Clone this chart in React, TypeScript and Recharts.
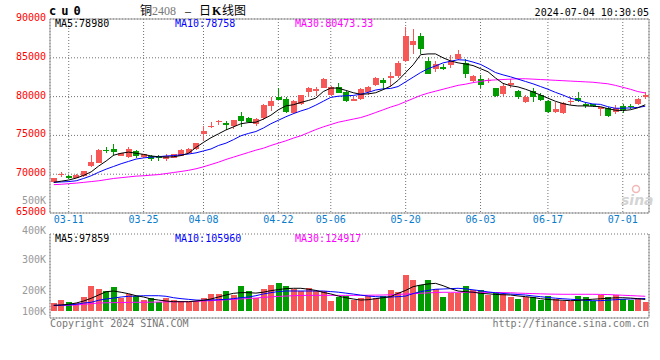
import React from "react";
import { ComposedChart, Bar, Line, XAxis, YAxis, ReferenceLine, CartesianGrid } from "recharts";

const dates = [
  "03-07","03-08","03-11","03-12","03-13","03-14","03-15","03-18","03-19","03-20",
  "03-21","03-22","03-25","03-26","03-27","03-28","03-29","04-01","04-02","04-03",
  "04-08","04-09","04-10","04-11","04-12","04-15","04-16","04-17","04-18","04-19",
  "04-22","04-23","04-24","04-25","04-26","04-29","04-30","05-06","05-07","05-08",
  "05-09","05-10","05-13","05-14","05-15","05-16","05-17","05-20","05-21","05-22",
  "05-23","05-24","05-27","05-28","05-29","05-30","05-31","06-03","06-04","06-05",
  "06-06","06-07","06-11","06-12","06-13","06-14","06-17","06-18","06-19","06-20",
  "06-21","06-24","06-25","06-26","06-27","06-28","07-01","07-02","07-03","07-04",
];

const opens = [
  69050, 69900, 69750, 69500, 69750, 71050, 71500, 73150, 73200, 72400,
  72200, 72950, 72200, 72350, 72250, 71950, 72150, 72400, 72700, 73300,
  75150, 76100, 76750, 76650, 76200, 77500, 77300, 76450, 77200, 78800,
  79900, 79750, 77900, 79000, 80600, 80750, 81100, 80200, 81250, 80600,
  79450, 79650, 80600, 81450, 82100, 82400, 82600, 84600, 86600, 87750,
  84550, 83600, 83850, 84050, 84900, 84300, 82050, 82300, 82000, 81050,
  80300, 81550, 80700, 79350, 80700, 80200, 79400, 78000, 77850, 79350,
  79850, 79000, 79000, 78450, 78550, 78050, 78800, 78750, 79050, 80000,
];
const highs = [
  69550, 70250, 69900, 70000, 70450, 72450, 73250, 73450, 73850, 72750,
  73450, 73100, 72600, 72500, 72450, 72650, 72600, 73250, 73350, 74050,
  76150, 76700, 77000, 76800, 77000, 78050, 77400, 77200, 79000, 79900,
  81050, 79900, 79550, 80250, 81250, 81250, 82450, 81400, 81750, 80700,
  79950, 81100, 81350, 82500, 82400, 83150, 84550, 88940, 88700, 88150,
  85150, 84550, 84250, 85400, 85950, 84850, 82750, 82750, 82450, 81100,
  81750, 82250, 80850, 80200, 81050, 80400, 79550, 79350, 79350, 79980,
  80600, 79250, 79100, 78700, 78700, 78900, 79050, 79100, 79800, 80600,
];
const lows = [
  69000, 69700, 69350, 69450, 69700, 70950, 71450, 72750, 72350, 72300,
  72050, 72050, 72150, 71650, 71750, 71750, 72100, 72350, 72600, 73100,
  74300, 75950, 76350, 75700, 75800, 76100, 76550, 76200, 77000, 78150,
  79500, 77830, 77750, 78900, 79900, 80050, 81050, 80100, 80400, 79350,
  79450, 79550, 80200, 81400, 80900, 81250, 82400, 84450, 85430, 85500,
  82850, 83150, 83400, 83700, 84750, 82450, 81900, 81150, 81700, 79950,
  80100, 81150, 79650, 79150, 79250, 79450, 77950, 77950, 77750, 78900,
  79250, 78500, 78600, 77500, 77400, 77750, 77850, 78450, 78900, 79700,
];
const closes = [
  69500, 69980, 69550, 69950, 70400, 71600, 73150, 72950, 72900, 72700,
  73200, 72350, 72550, 71950, 72100, 72350, 72550, 73150, 73250, 74000,
  75550, 76200, 76850, 76300, 76950, 76900, 76700, 77050, 78900, 79450,
  79550, 78050, 79400, 80150, 81150, 80950, 82250, 81300, 80500, 79400,
  79750, 81000, 81250, 82400, 81750, 82600, 84300, 87750, 87200, 86150,
  82950, 84250, 83600, 84650, 85500, 82950, 82650, 81450, 82100, 80100,
  81350, 81700, 79900, 80000, 79980, 79550, 78050, 78400, 79150, 79450,
  79400, 78850, 78850, 78600, 77500, 78500, 78250, 78650, 79700, 80200,
];

const ma5 = [
  68950, 69100, 69250, 69500, 69850, 70300, 71050, 71700, 72450, 72700,
  72850, 72700, 72550, 72350, 72250, 72200, 72250, 72400, 72700, 73450,
  74100, 74700, 75200, 75700, 76100, 76500, 76650, 76700, 77100, 77600,
  78300, 78800, 78950, 79250, 79500, 79800, 80650, 81100, 81100, 80800,
  80500, 80300, 80350, 80500, 80900, 81350, 82100, 83100, 84100, 85400,
  85500, 85500, 85000, 84600, 84350, 84200, 84000, 83600, 83200, 82400,
  81700, 81400, 81250, 80950, 80600, 80200, 79800, 79400, 79100, 78900,
  78800, 78800, 78750, 78700, 78450, 78250, 78200, 78300, 78550, 78950,
];
const ma10 = [
  68950, 69000, 69050, 69150, 69450, 69800, 70250, 70650, 71000, 71350,
  71650, 71950, 72100, 72200, 72250, 72350, 72400, 72500, 72600, 72750,
  73000, 73250, 73700, 74000, 74450, 74950, 75250, 75500, 75950, 76500,
  76950, 77400, 77800, 78150, 78450, 78900, 79400, 79900, 80050, 80100,
  80150, 80300, 80550, 80850, 81000, 81050, 81300, 81900, 82500, 83100,
  83600, 83950, 84350, 84550, 84750, 84700, 84450, 84150, 83650, 83100,
  82800, 82550, 82250, 81950, 81650, 81300, 80950, 80550, 80200, 79800,
  79550, 79250, 79050, 79000, 78700, 78500, 78500, 78550, 78600, 78760,
];
const ma30 = [
  68650, 68700, 68780, 68850, 68950, 69050, 69150, 69300, 69450, 69550,
  69650, 69750, 69800, 69880, 69950, 70080, 70220, 70350, 70500, 70700,
  70950, 71250, 71550, 71900, 72200, 72500, 72800, 73100, 73350, 73700,
  74000, 74300, 74650, 74950, 75350, 75750, 76100, 76400, 76700, 76900,
  77100, 77300, 77600, 77950, 78300, 78650, 78950, 79350, 79750, 80150,
  80450, 80700, 80950, 81200, 81450, 81600, 81800, 81950, 82100, 82150,
  82200, 82250, 82300, 82300, 82250, 82200, 82150, 82100, 82050, 82000,
  81950, 81900, 81850, 81750, 81650, 81450, 81200, 80950, 80650, 80470,
];

const volumes = [
  71000, 93000, 76000, 65000, 122000, 212000, 187000, 170000, 204000, 113000,
  142000, 130000, 93000, 108000, 74000, 113000, 93000, 85000, 79000, 85000,
  113000, 144000, 144000, 170000, 136000, 212000, 173000, 113000, 187000, 221000,
  238000, 212000, 187000, 170000, 195000, 173000, 173000, 85000, 119000, 127000,
  93000, 110000, 127000, 110000, 127000, 178000, 161000, 306000, 263000, 221000,
  263000, 187000, 119000, 156000, 156000, 212000, 178000, 178000, 136000, 156000,
  144000, 122000, 102000, 122000, 119000, 93000, 127000, 102000, 85000, 85000,
  127000, 122000, 88000, 136000, 122000, 136000, 102000, 93000, 102000, 76000,
];
const volMa5 = [
  48000, 51000, 57000, 68000, 85000, 108000, 136000, 164000, 170000, 159000,
  147000, 130000, 119000, 102000, 93000, 85000, 79000, 79000, 79000, 85000,
  91000, 102000, 119000, 136000, 150000, 156000, 156000, 152000, 160000, 173000,
  182000, 190000, 193000, 193000, 185000, 175000, 158000, 145000, 127000, 113000,
  102000, 93000, 96000, 105000, 113000, 122000, 150000, 175000, 207000, 221000,
  230000, 235000, 215000, 190000, 170000, 164000, 160000, 150000, 146000, 141000,
  138000, 136000, 128000, 122000, 115000, 105000, 98000, 94000, 91000, 88000,
  90000, 96000, 100000, 104000, 108000, 112000, 113000, 110000, 105000, 98000,
];
const volMa10 = [
  48000, 50000, 52000, 57000, 68000, 74000, 91000, 102000, 110000, 119000,
  125000, 127000, 130000, 130000, 130000, 125000, 113000, 105000, 99000, 93000,
  91000, 93000, 96000, 99000, 105000, 113000, 119000, 130000, 145000, 156000,
  165000, 170000, 170000, 170000, 170000, 170000, 170000, 165000, 160000, 152000,
  144000, 135000, 127000, 122000, 119000, 119000, 122000, 127000, 148000, 165000,
  175000, 185000, 187000, 190000, 193000, 188000, 180000, 172000, 162000, 155000,
  149000, 144000, 140000, 136000, 128000, 122000, 115000, 109000, 104000, 100000,
  96000, 91000, 87000, 88000, 92000, 96000, 100000, 102000, 104000, 106000,
];
const volMa30 = [
  45000, 47000, 49000, 51000, 57000, 62000, 68000, 70000, 71000, 72000,
  73000, 74000, 74000, 75000, 76000, 77000, 78000, 79000, 80000, 82000,
  85000, 88000, 91000, 95000, 99000, 102000, 106000, 110000, 116000, 120000,
  124000, 127000, 130000, 132000, 133000, 133000, 133000, 133000, 133000, 133000,
  133000, 133000, 134000, 135000, 136000, 138000, 141000, 144000, 147000, 151000,
  154000, 157000, 159000, 159000, 159000, 159000, 159000, 159000, 158000, 157000,
  156000, 155000, 152000, 150000, 148000, 146000, 144000, 143000, 142000, 142000,
  142000, 142000, 142000, 141000, 140000, 137000, 134000, 131000, 128000, 125000,
];

const priceTicks = [65000, 70000, 75000, 80000, 85000, 90000];
const dateTicks = ["03-11", "03-25", "04-08", "04-22", "05-06", "05-20", "06-03", "06-17", "07-01"];
const volGridTicks = [0, 1, 2, 3, 4];
const volTickLabels = ["400K", "300K", "200K", "100K"];
const priceLegend = [
  { label: "MA5", value: "78980" },
  { label: "MA10", value: "78758" },
  { label: "MA30", value: "80473.33" },
];
const volLegend = [
  { label: "MA5", value: "97859" },
  { label: "MA10", value: "105960" },
  { label: "MA30", value: "124917" },
];
const symbol = "cu0";
const titleParts = { name: "铜", code: "2408", sep: "–", tail1: "日", k: "K", tail2: "线图" };
const timestamp = "2024-07-04 10:30:05";
const copyright = "Copyright 2024 SINA.COM";
const siteUrl = "http://finance.sina.com.cn";
const extraLabel = "500K";

const RED = "#f65858";
const GREEN = "#009c00";
const MA_COLORS = ["#000000", "#0000ff", "#ff00ff"];
const MONO = "'DejaVu Sans Mono', monospace";
const AXIS = "#999999";
const GRID = "#707070";

const data = dates.map((d, i) => ({
  date: d,
  open: opens[i],
  high: highs[i],
  low: lows[i],
  close: closes[i],
  ma5: ma5[i],
  ma10: ma10[i],
  ma30: ma30[i],
  vol: volumes[i],
  vma5: volMa5[i],
  vma10: volMa10[i],
  vma30: volMa30[i],
}));

function Candle(props: any) {
  const { x, y, width, height, payload } = props;
  if (!payload || y == null || height == null) return null;
  const top = height >= 0 ? y : y + height;
  const h = Math.abs(height);
  const span = payload.high - payload.low || 1;
  const py = (v: number) => top + ((payload.high - v) / span) * h;
  const up = payload.close >= payload.open;
  const color = up ? RED : GREEN;
  const cx = Math.floor(x + width / 2) + 0.5;
  const bTop = py(Math.max(payload.open, payload.close));
  const bBot = py(Math.min(payload.open, payload.close));
  const bh = Math.max(1, bBot - bTop);
  return (
    <g>
      <line x1={cx} x2={cx} y1={top} y2={top + h} stroke={color} strokeWidth={1} shapeRendering="crispEdges" />
      <rect x={Math.round(x)} y={bTop} width={width} height={bh} fill={color} shapeRendering="crispEdges" />
    </g>
  );
}

function VolBar(props: any) {
  const { x, y, width, height, payload } = props;
  if (!payload || y == null || height == null) return null;
  const top = height >= 0 ? y : y + height;
  const up = payload.close >= payload.open;
  return (
    <rect x={Math.round(x)} y={top} width={width} height={Math.abs(height)} fill={up ? RED : GREEN} shapeRendering="crispEdges" />
  );
}

function PriceTick(props: any) {
  const { y, payload } = props;
  return (
    <text x={46} y={y + 2} textAnchor="end" fontFamily={MONO} fontSize={10} fill="#ff0000">
      {payload.value}
    </text>
  );
}

function DateTick(props: any) {
  const { x, y, payload } = props;
  return (
    <text x={x} y={y + 4} textAnchor="middle" fontFamily={MONO} fontSize={10} fill="#0a7ccc">
      {payload.value}
    </text>
  );
}

export default function App() {
  return (
    <div style={{ position: "absolute", left: 0, top: 0, width: 660, height: 360, background: "#fff", overflow: "hidden" }}>
      <div style={{ position: "absolute", left: 0, top: 0 }}>
        <ComposedChart width={660} height={230} data={data} margin={{ top: 19, right: 0, bottom: 0, left: 0 }}>
          <CartesianGrid yAxisId="p" stroke={GRID} strokeDasharray="1 2" />
          <XAxis
            dataKey="date"
            ticks={dateTicks}
            interval={0}
            height={17}
            tickLine={false}
            tickMargin={0}
            axisLine={{ stroke: AXIS }}
            tick={DateTick}
          />
          <YAxis
            yAxisId="p"
            domain={[65000, 90000]}
            ticks={priceTicks}
            width={50}
            tickLine={false}
            axisLine={{ stroke: AXIS }}
            tick={PriceTick}
            allowDataOverflow
          />
          <YAxis
            yAxisId="r"
            orientation="right"
            width={11}
            domain={[65000, 90000]}
            tick={false}
            tickLine={false}
            axisLine={{ stroke: AXIS }}
          />
          <ReferenceLine yAxisId="p" y={90000} stroke={AXIS} />
          <Bar yAxisId="p" dataKey={(d: any) => [d.low, d.high]} barSize={6} shape={Candle} isAnimationActive={false} />
          <Line yAxisId="p" dataKey="ma30" stroke={MA_COLORS[2]} strokeWidth={1} dot={false} activeDot={false} isAnimationActive={false} />
          <Line yAxisId="p" dataKey="ma10" stroke={MA_COLORS[1]} strokeWidth={1} dot={false} activeDot={false} isAnimationActive={false} />
          <Line yAxisId="p" dataKey="ma5" stroke={MA_COLORS[0]} strokeWidth={1} dot={false} activeDot={false} isAnimationActive={false} />
        </ComposedChart>
      </div>

      <div style={{ position: "absolute", left: 0, top: 230 }}>
        <ComposedChart width={660} height={89} data={data} margin={{ top: 4, right: 0, bottom: 0, left: 0 }}>
          <CartesianGrid yAxisId="g" stroke={GRID} strokeDasharray="1 2" />
          <XAxis dataKey="date" ticks={dateTicks} interval={0} height={1} tick={false} tickLine={false} axisLine={{ stroke: AXIS }} />
          <YAxis yAxisId="g" domain={[0, 4]} ticks={volGridTicks} width={50} tick={false} tickLine={false} axisLine={{ stroke: AXIS }} />
          <YAxis yAxisId="v" domain={[-59500, 654500]} hide allowDataOverflow />
          <YAxis yAxisId="r" orientation="right" width={11} domain={[0, 4]} tick={false} tickLine={false} axisLine={{ stroke: AXIS }} />
          <ReferenceLine yAxisId="g" y={4} stroke={AXIS} />
          <Bar yAxisId="v" dataKey={(d: any) => [0, d.vol]} barSize={6} shape={VolBar} isAnimationActive={false} />
          <Line yAxisId="v" dataKey="vma30" stroke={MA_COLORS[2]} strokeWidth={1} dot={false} activeDot={false} isAnimationActive={false} />
          <Line yAxisId="v" dataKey="vma10" stroke={MA_COLORS[1]} strokeWidth={1} dot={false} activeDot={false} isAnimationActive={false} />
          <Line yAxisId="v" dataKey="vma5" stroke={MA_COLORS[0]} strokeWidth={1} dot={false} activeDot={false} isAnimationActive={false} />
        </ComposedChart>
      </div>

      <svg width={660} height={360} style={{ position: "absolute", left: 0, top: 0, pointerEvents: "none" }}>
        <text x={49} y={15} fontFamily={MONO} fontSize={12} fontWeight="bold" letterSpacing={5} fill="#000">{symbol}</text>
        <text y={15} fontSize={12} fill="#000">
          <tspan x={140} fontFamily="'Noto Sans CJK SC', sans-serif">{titleParts.name}</tspan>
          <tspan x={152} fontFamily="'Liberation Serif', serif" fill="#777">{titleParts.code}</tspan>
          <tspan x={185} fontFamily="'Liberation Serif', serif">{titleParts.sep}</tspan>
          <tspan x={199} fontFamily="'Noto Sans CJK SC', sans-serif">{titleParts.tail1}</tspan>
          <tspan x={212} fontFamily="'Liberation Serif', serif" fontWeight="bold">{titleParts.k}</tspan>
          <tspan x={222} fontFamily="'Noto Sans CJK SC', sans-serif">{titleParts.tail2}</tspan>
        </text>
        <text x={649} y={15.5} textAnchor="end" fontFamily={MONO} fontSize={10} fill="#000">{timestamp}</text>

        {priceLegend.map((m, i) => (
          <text key={m.label} x={55 + i * 120} y={27} fontFamily={MONO} fontSize={10} fill={MA_COLORS[i]}>
            {m.label}:{m.value}
          </text>
        ))}
        {volLegend.map((m, i) => (
          <text key={m.label} x={55 + i * 120} y={242} fontFamily={MONO} fontSize={10} fill={MA_COLORS[i]}>
            {m.label}:{m.value}
          </text>
        ))}

        <text x={46} y={204} textAnchor="end" fontFamily={MONO} fontSize={10} fill="#999">{extraLabel}</text>
        {volTickLabels.map((t, i) => (
          <text key={t} x={46} y={[234, 263, 294, 315][i]} textAnchor="end" fontFamily={MONO} fontSize={10} fill="#999">{t}</text>
        ))}

        <text x={50} y={327} fontFamily={MONO} fontSize={10} fill="#777">{copyright}</text>
        <text x={649} y={327} textAnchor="end" fontFamily={MONO} fontSize={10} fill="#777">{siteUrl}</text>

        <circle cx={636} cy={189} r={3.5} fill="none" stroke="#f2b8b8" strokeWidth={1.5} />
        <text x={621} y={205} fontFamily="'DejaVu Sans', sans-serif" fontSize={14} fontStyle="italic" fontWeight="bold" fill="#d4d4d4">sina</text>
      </svg>
    </div>
  );
}
